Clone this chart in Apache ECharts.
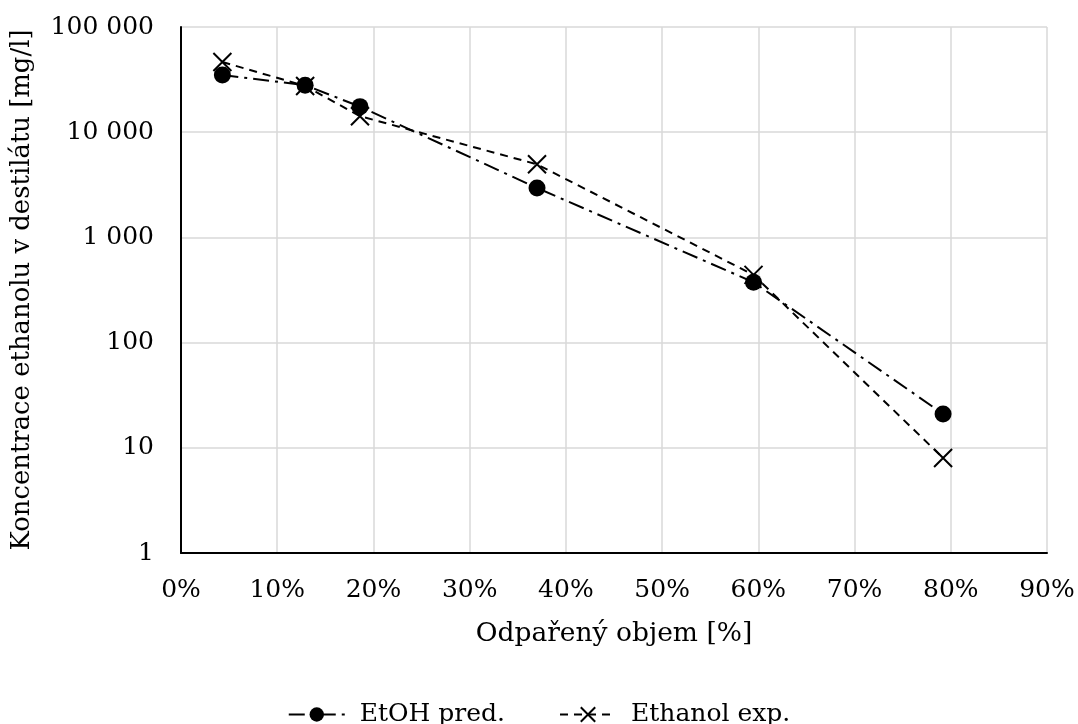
<!DOCTYPE html>
<html>
<head>
<meta charset="utf-8">
<script src="https://cdn.jsdelivr.net/npm/echarts@6/dist/echarts.min.js"></script>
<style>
html,body{margin:0;padding:0;background:#fff;}
#chart{width:1078px;height:724px;}
</style>
</head>
<body>
<div id="chart"></div>
<script>
// Data (x in %, y in mg/l)
const xPred = [4.3, 12.9, 18.6, 37.0, 59.5, 79.2];
const yPred = [35000, 28000, 17500, 2950, 375, 21];
const xExp = [4.3, 12.9, 18.6, 37.0, 59.5, 79.2];
const yExp = [46500, 27500, 14200, 4950, 440, 8];
const seriesNames = ['EtOH pred.', 'Ethanol exp.'];
const xAxisTitle = 'Odpařený objem [%]';
const yAxisTitle = 'Koncentrace ethanolu v destilátu [mg/l]';

const FONT = 'DejaVu Serif';
const fmtThousands = v => String(Math.round(v)).replace(/\B(?=(\d{3})+(?!\d))/g, ' ');
const crossPath = 'path://M0,0L10,10M10,0L0,10';

const chart = echarts.init(document.getElementById('chart'), null, {renderer: 'canvas'});
chart.setOption({
  animation: false,
  backgroundColor: '#ffffff',
  textStyle: {fontFamily: FONT, color: '#000'},
  grid: {left: 181, right: 31, top: 27, bottom: 171, containLabel: false},
  xAxis: {
    type: 'value', min: 0, max: 90, interval: 10,
    name: xAxisTitle, nameLocation: 'middle', nameGap: 68,
    nameTextStyle: {fontFamily: FONT, fontSize: 26.5, color: '#000'},
    axisLine: {show: true, onZero: false, lineStyle: {color: '#000', width: 2}},
    axisTick: {show: false},
    axisLabel: {formatter: '{value}%', fontFamily: FONT, fontSize: 25, color: '#000', margin: 25},
    splitLine: {show: true, lineStyle: {color: '#d9d9d9', width: 1.5}}
  },
  yAxis: {
    type: 'log', logBase: 10, min: 1, max: 100000,
    name: yAxisTitle, nameLocation: 'middle', nameGap: 146, nameRotate: 90,
    nameTextStyle: {fontFamily: FONT, fontSize: 25.9, color: '#000'},
    axisLine: {show: true, lineStyle: {color: '#000', width: 2}},
    axisTick: {show: false},
    axisLabel: {formatter: fmtThousands, fontFamily: FONT, fontSize: 25, color: '#000', margin: 27},
    splitLine: {show: true, lineStyle: {color: '#d9d9d9', width: 1.5}},
    minorTick: {show: false}
  },
  legend: {
    top: 697, left: 'center', itemWidth: 56, itemHeight: 18, itemGap: 54,
    textStyle: {fontFamily: FONT, fontSize: 25, color: '#000', padding: [0, 0, 0, 10]},
    data: seriesNames
  },
  series: [
    {
      name: seriesNames[0], type: 'line',
      data: xPred.map((x, i) => [x, yPred[i]]),
      symbol: 'circle', symbolSize: 17,
      itemStyle: {color: '#000'},
      lineStyle: {color: '#000', width: 2, type: [16, 6, 3, 6]},
      z: 2
    },
    {
      name: seriesNames[1], type: 'line',
      data: xExp.map((x, i) => [x, yExp[i]]),
      symbol: crossPath, symbolSize: 18,
      itemStyle: {color: 'none', borderColor: '#000', borderWidth: 2},
      lineStyle: {color: '#000', width: 2, type: [8, 6]},
      z: 3
    }
  ]
});
</script>
</body>
</html>
